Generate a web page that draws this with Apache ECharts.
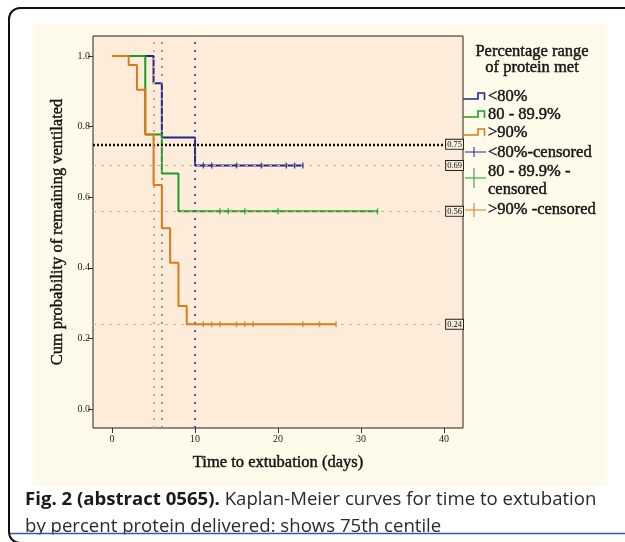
<!DOCTYPE html>
<html>
<head>
<meta charset="utf-8">
<script src="https://cdn.jsdelivr.net/npm/echarts@6/dist/echarts.min.js"></script>
<style>
  html, body { margin: 0; padding: 0; background: #ffffff; }
  #chart { width: 625px; height: 542px; }
</style>
</head>
<body>
<div id="chart"></div>
<script>
// Axis ticks
const xTicks = [0, 10, 20, 30, 40];
const yTicks = [0, 0.2, 0.4, 0.6, 0.8, 1.0];

// Groups (percentage of protein target met)
const groupNames = ['<80%', '80 - 89.9%', '>90%'];
const censorLabels = ['<80%-censored', '80 - 89.9% -\ncensored', '>90% -censored'];

// Kaplan-Meier steps: time (days) and survival after each step
const lowTimes = [0, 5, 6, 10, 23];
const lowSurv = [1.0, 0.923, 0.769, 0.69, 0.69];
const lowCensored = [11, 12, 15, 18, 21, 22, 23];

const midTimes = [0, 4, 6, 8, 32];
const midSurv = [1.0, 0.778, 0.667, 0.56, 0.56];
const midCensored = [13, 14, 16, 20, 32];

const highTimes = [0, 2, 3, 4, 5, 6, 7, 8, 9, 27];
const highSurv = [1.0, 0.975, 0.905, 0.778, 0.635, 0.512, 0.414, 0.292, 0.24, 0.24];
const highCensored = [11, 12, 13, 15, 16, 17, 23, 25, 27];

// 75th centile reference, day at which each group crosses it, plateau levels
const centile = 0.75;
const crossDays = [10, 6, 5];          // <80%, 80-89.9%, >90%
const plateaus = [0.69, 0.56, 0.24];

const colors = ['#24248e', '#1f9a22', '#dc7a18'];
const crossColors = ['#55559a', '#8c9a78', '#e2a472'];

const serif = '"Liberation Serif", "DejaVu Serif", serif';
const sans = '"Open Sans", "Noto Sans", sans-serif';
const ink = '#141414';

function pairs(t, s) { return t.map((v, i) => [v, s[i]]); }
function survAt(t, times, surv) {
  let v = surv[0];
  for (let i = 0; i < times.length; i++) { if (times[i] <= t) v = surv[i]; }
  return v;
}
function censorPoints(c, times, surv) { return c.map(d => [d, survAt(d, times, surv)]); }

const curves = [
  { name: groupNames[0], data: pairs(lowTimes, lowSurv), cens: censorPoints(lowCensored, lowTimes, lowSurv) },
  { name: groupNames[1], data: pairs(midTimes, midSurv), cens: censorPoints(midCensored, midTimes, midSurv) },
  { name: groupNames[2], data: pairs(highTimes, highSurv), cens: censorPoints(highCensored, highTimes, highSurv) }
];

const valueBox = {
  show: true,
  position: 'insideEnd',
  distance: 0,
  formatter: p => Number(p.value).toFixed(2),
  fontFamily: serif,
  fontSize: 8.5,
  color: '#111',
  backgroundColor: '#f7ecd9',
  borderColor: '#222',
  borderWidth: 1,
  padding: [0, 1]
};

const refLines = [
  { yAxis: centile, lineStyle: { color: '#111', type: [2, 2], width: 2.4 }, label: valueBox },
  ...plateaus.map(v => ({ yAxis: v, lineStyle: { color: '#c6b397', type: [3, 5], width: 1 }, label: valueBox })),
  ...crossDays.map((d, i) => ({ xAxis: d, lineStyle: { color: crossColors[i], type: [2, 6], width: 2 }, label: { show: false } }))
];

const series = [
  {
    type: 'line', name: 'ref', data: [], z: 1, silent: true,
    markLine: { symbol: ['none', 'none'], silent: true, animation: false, data: refLines }
  }
];
curves.forEach((c, i) => {
  series.push({
    type: 'line', name: c.name, data: c.data, step: 'end', showSymbol: false, symbol: 'none',
    lineStyle: { color: colors[i], width: 2 }, z: 3 + i
  });
});
curves.forEach((c, i) => {
  series.push({
    type: 'scatter', name: censorLabels[i], data: c.cens, symbol: 'rect', symbolSize: [1.4, 6],
    itemStyle: { color: colors[i] }, z: 6 + i
  });
});

// Legend block drawn to the right of the plot
const legendX = 488;
const stepRows = [97, 115, 133];
const plusRows = [{ y: 152, h: 5 }, { y: 178, h: 10 }, { y: 210, h: 7 }];
const legendTexts = [
  { t: 'Percentage range', x: 532, y: 52, a: 'center' },
  { t: 'of protein met', x: 532, y: 68, a: 'center' },
  { t: groupNames[0], x: legendX, y: 97 },
  { t: groupNames[1], x: legendX, y: 115 },
  { t: groupNames[2], x: legendX, y: 133 },
  { t: '<80%-censored', x: legendX, y: 153 },
  { t: '80 - 89.9% -', x: legendX, y: 172 },
  { t: 'censored', x: legendX, y: 190 },
  { t: '>90% -censored', x: legendX, y: 210 }
];

const graphic = [
  { type: 'rect', shape: { x: 33, y: 24, width: 574, height: 462 }, style: { fill: '#fefbeb' }, z: -10, silent: true }
];
legendTexts.forEach(l => graphic.push({
  type: 'text', x: l.x, y: l.y, z: 20, silent: true,
  style: {
    text: l.t, font: '16.5px ' + serif, fill: ink, stroke: ink, lineWidth: 0.45,
    align: l.a || 'left', verticalAlign: 'middle'
  }
}));
stepRows.forEach((y, i) => graphic.push({
  type: 'polyline', z: 20, silent: true,
  shape: { points: [[463, y + 2], [478, y + 2], [478, y - 4], [484.5, y - 4], [484.5, y + 3]] },
  style: { stroke: colors[i], lineWidth: 1.6, fill: null }
}));
plusRows.forEach((p, i) => {
  graphic.push({ type: 'line', z: 20, silent: true, shape: { x1: 465, y1: p.y, x2: 486, y2: p.y }, style: { stroke: colors[i], lineWidth: 1 } });
  graphic.push({ type: 'line', z: 20, silent: true, shape: { x1: 474, y1: p.y - p.h, x2: 474, y2: p.y + p.h }, style: { stroke: colors[i], lineWidth: 1 } });
});

// Caption
graphic.push({
  type: 'text', x: 25, y: 500, z: 20, silent: true,
  style: {
    text: '{b|Fig. 2 (abstract 0565).} Kaplan-Meier curves for time to extubation',
    font: '18.6px ' + sans, fill: '#2a2a2a', verticalAlign: 'middle',
    rich: { b: { font: 'bold 18.6px ' + sans, fill: '#1a1a1a' } }
  }
});
graphic.push({
  type: 'text', x: 25, y: 527, z: 20, silent: true,
  style: { text: 'by percent protein delivered: shows 75th centile', font: '18.6px ' + sans, fill: '#2a2a2a', verticalAlign: 'middle' }
});
// Frame, rule and clipping of the lower caption line
graphic.push({ type: 'rect', z: 30, silent: true, shape: { x: 11, y: 534.5, width: 620, height: 10 }, style: { fill: '#ffffff' } });
graphic.push({ type: 'line', z: 31, silent: true, shape: { x1: 10, y1: 533.5, x2: 625, y2: 533.5 }, style: { stroke: '#2d5f9c', lineWidth: 1.6 } });
graphic.push({ type: 'rect', z: 32, silent: true, shape: { x: 9, y: 8, width: 680, height: 535, r: 11 }, style: { fill: null, stroke: '#111', lineWidth: 2 } });

const titleStyle = { fontFamily: serif, fontSize: 16.5, color: ink, textBorderColor: ink, textBorderWidth: 0.45 };

const chart = echarts.init(document.getElementById('chart'), null, { renderer: 'canvas' });
chart.setOption({
  animation: false,
  backgroundColor: '#ffffff',
  grid: {
    left: 93, top: 36, width: 370, height: 392,
    show: true, backgroundColor: '#fcecd9', borderColor: '#222', borderWidth: 1
  },
  xAxis: {
    type: 'value', min: -2.3, max: 42.3,
    name: 'Time to extubation (days)', nameLocation: 'middle', nameGap: 26,
    nameTextStyle: titleStyle,
    axisLine: { show: false, onZero: false },
    axisTick: { show: true, length: 5, lineStyle: { color: '#333' }, customValues: xTicks },
    axisLabel: { fontFamily: serif, fontSize: 10, color: '#222', margin: 6, customValues: xTicks, formatter: v => String(v) },
    splitLine: { show: false }
  },
  yAxis: {
    type: 'value', min: -0.054, max: 1.057,
    name: 'Cum probability of remaining ventilated', nameLocation: 'middle', nameGap: 27,
    nameTextStyle: titleStyle,
    axisLine: { show: false, onZero: false },
    axisTick: { show: true, length: 5, lineStyle: { color: '#333' }, customValues: yTicks },
    axisLabel: { fontFamily: serif, fontSize: 10, color: '#222', margin: 3, customValues: yTicks, formatter: v => v.toFixed(1) },
    splitLine: { show: false }
  },
  graphic: graphic,
  series: series
});
</script>
</body>
</html>
